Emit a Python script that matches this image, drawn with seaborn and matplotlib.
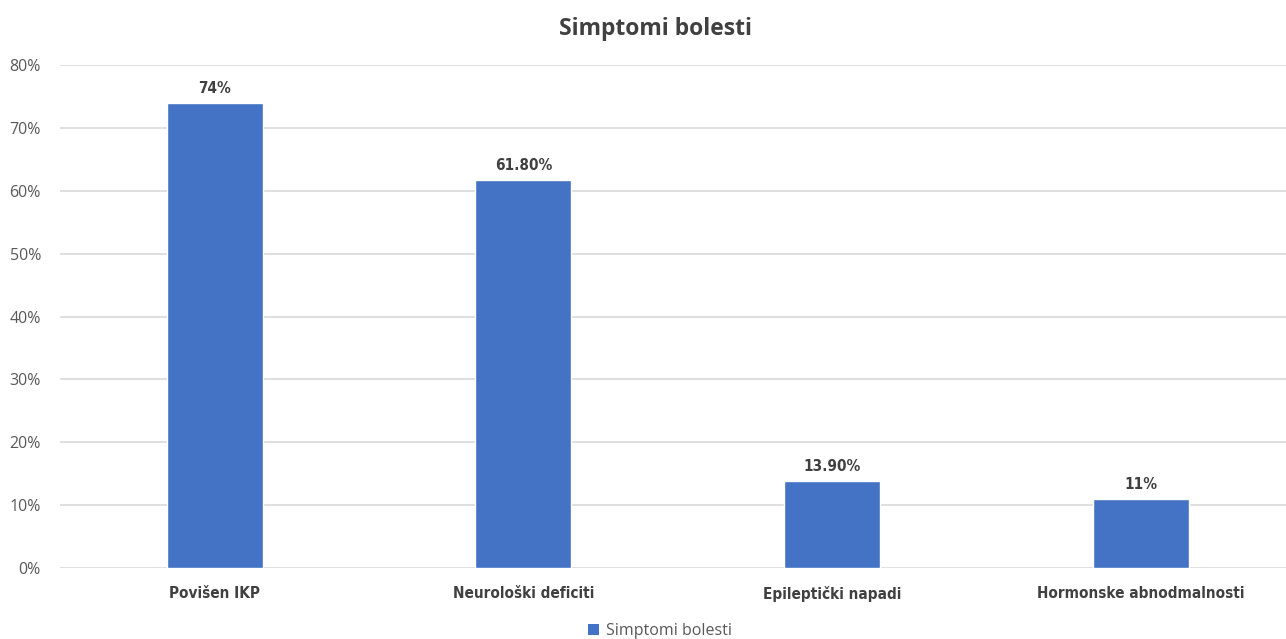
import matplotlib
matplotlib.use("Agg")
import matplotlib.pyplot as plt
import seaborn as sns
import pandas as pd
from matplotlib.ticker import FuncFormatter, MultipleLocator
from matplotlib.patches import Patch

categories = ["Povišen IKP", "Neurološki deficiti", "Epileptički napadi", "Hormonske abnodmalnosti"]
values = [74.0, 61.8, 13.9, 11.0]
value_labels = ["74%", "61.80%", "13.90%", "11%"]
series_name = "Simptomi bolesti"
title = "Simptomi bolesti"

df = pd.DataFrame({"kategorija": categories, "vrijednost": values})

sns.set_theme(style="white")
plt.rcParams["font.family"] = ["Open Sans", "DejaVu Sans"]

fig = plt.figure(figsize=(12.86, 6.39), dpi=100)
ax = fig.add_axes([0.047, 0.111, 0.960, 0.787])

bar_color = "#4472C4"
sns.barplot(data=df, x="kategorija", y="vrijednost", color=bar_color,
            width=0.311, ax=ax, saturation=1, zorder=3)

ax.set_ylim(0, 80)
ax.set_xlim(-0.5, 3.5)
ax.yaxis.set_major_locator(MultipleLocator(10))
ax.yaxis.set_major_formatter(FuncFormatter(lambda v, _: f"{int(v)}%"))
ax.grid(axis="y", color="#d9d9d9", linewidth=1.2, zorder=0)
ax.set_axisbelow(True)
for s in ["top", "right", "left", "bottom"]:
    ax.spines[s].set_visible(False)
ax.set_xlabel("")
ax.set_ylabel("")
ax.tick_params(axis="y", length=0, labelsize=11.5, labelcolor="#595959", pad=14)
ax.tick_params(axis="x", length=0, pad=13)
for lbl in ax.get_xticklabels():
    lbl.set_fontfamily(["DejaVu Sans"])
    lbl.set_fontstretch("condensed")
    lbl.set_fontweight("bold")
    lbl.set_fontsize(11)
    lbl.set_color("#404040")

for i, (v, txt) in enumerate(zip(values, value_labels)):
    ax.annotate(txt, (i, v), xytext=(0, 5), textcoords="offset points",
                ha="center", va="bottom", fontsize=11, fontweight="bold",
                fontstretch="condensed", color="#404040", family=["DejaVu Sans"])

fig.text(0.510, 0.955, title, ha="center", va="center", fontsize=16.5,
         fontweight="bold", color="#404040", family=["Open Sans", "DejaVu Sans"])

handle = Patch(facecolor=bar_color, edgecolor="none", label=series_name)
fig.legend(handles=[handle], loc="center", bbox_to_anchor=(0.513, 0.012),
           frameon=False, fontsize=11.5, labelcolor="#595959",
           handlelength=0.7, handleheight=0.7, handletextpad=0.4)

fig.savefig("out.png", dpi=100, facecolor="white")
